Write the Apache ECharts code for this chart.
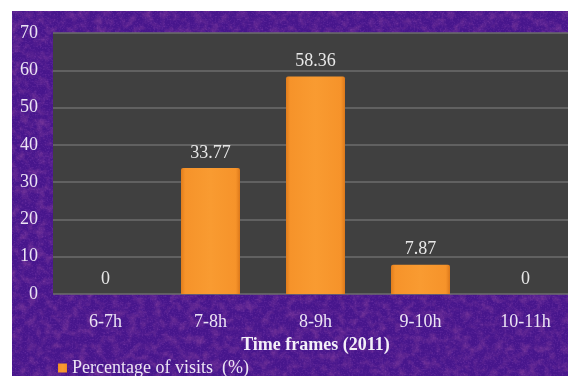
<!DOCTYPE html>
<html>
<head>
<meta charset="utf-8">
<script src="https://cdn.jsdelivr.net/npm/echarts@6/dist/echarts.min.js"></script>
<style>
html,body{margin:0;padding:0;background:#ffffff;width:568px;height:376px;overflow:hidden;position:relative;}
#bg{position:absolute;left:12px;top:11px;width:556px;height:365px;background-color:#47168c;}
#chart{position:absolute;left:0;top:0;width:578px;height:376px;}
</style>
</head>
<body>
<div id="bg"></div>
<div id="chart"></div>
<script>
var categories = ['6-7h', '7-8h', '8-9h', '9-10h', '10-11h'];
var visits = [0, 33.77, 58.36, 7.87, 0];
var yTicks = [0, 10, 20, 30, 40, 50, 60, 70];
var seriesName = 'Percentage of visits  (%)';
var axisTitle = 'Time frames (2011)';

// textured purple background (procedural noise via inline SVG)
var svg = "<svg xmlns='http://www.w3.org/2000/svg' width='556' height='365'>" +
  "<filter id='n' x='0' y='0' width='100%' height='100%'><feTurbulence type='fractalNoise' baseFrequency='0.12' numOctaves='3' seed='7'/>" +
  "<feColorMatrix values='0 0 0 0 0.20  0 0 0 0 0.04  0 0 0 0 0.32  2.0 0 0 0 -0.85'/></filter>" +
  "<filter id='m' x='0' y='0' width='100%' height='100%'><feTurbulence type='fractalNoise' baseFrequency='0.6' numOctaves='2' seed='3'/>" +
  "<feColorMatrix values='0 0 0 0 0.42  0 0 0 0 0.12  0 0 0 0 0.62  0 2.0 0 0 -0.95'/></filter>" +
  "<rect width='100%' height='100%' fill='#47168c'/>" +
  "<rect width='100%' height='100%' filter='url(#n)' opacity='0.8'/>" +
  "<rect width='100%' height='100%' filter='url(#m)' opacity='0.3'/></svg>";
document.getElementById('bg').style.backgroundImage = 'url("data:image/svg+xml,' + encodeURIComponent(svg) + '")';

var font = 'Liberation Serif';
var chart = echarts.init(document.getElementById('chart'), null, {renderer: 'canvas', width: 578, height: 376});
var barColor = new echarts.graphic.LinearGradient(0, 0, 1, 0, [
  {offset: 0, color: '#e07c1c'},
  {offset: 0.07, color: '#f6932a'},
  {offset: 0.5, color: '#f99b31'},
  {offset: 0.93, color: '#f6932a'},
  {offset: 1, color: '#dc781a'}
]);
chart.setOption({
  backgroundColor: 'transparent',
  animation: false,
  grid: {left: 53, right: 0, top: 33, bottom: 82, show: true, backgroundColor: '#404040', borderWidth: 0},
  legend: {
    left: 53, top: 354, itemWidth: 9, itemHeight: 9, itemGap: 5,
    icon: 'rect',
    textStyle: {color: '#ece4f4', fontFamily: font, fontSize: 18},
    data: [seriesName]
  },
  xAxis: {
    type: 'category',
    data: categories,
    name: axisTitle,
    nameLocation: 'middle',
    nameGap: 38,
    nameTextStyle: {color: '#f4f0f8', fontFamily: font, fontSize: 18, fontWeight: 'bold'},
    axisLine: {show: false},
    axisTick: {show: false},
    axisLabel: {color: '#ece4f4', fontFamily: font, fontSize: 18, margin: 19}
  },
  yAxis: {
    type: 'value',
    min: yTicks[0], max: yTicks[yTicks.length - 1], interval: 10,
    axisLine: {show: false},
    axisTick: {show: false},
    axisLabel: {color: '#ece4f4', fontFamily: font, fontSize: 18, margin: 15},
    splitLine: {show: true, lineStyle: {color: '#6c6c6c', width: 1.5}}
  },
  series: [{
    name: seriesName,
    type: 'bar',
    data: visits,
    barWidth: 59,
    itemStyle: {color: barColor, borderRadius: [2, 2, 0, 0]},
    label: {
      show: true, position: 'top', distance: 6,
      color: '#e8e8e8', fontFamily: font, fontSize: 18
    }
  }]
});
</script>
</body>
</html>
